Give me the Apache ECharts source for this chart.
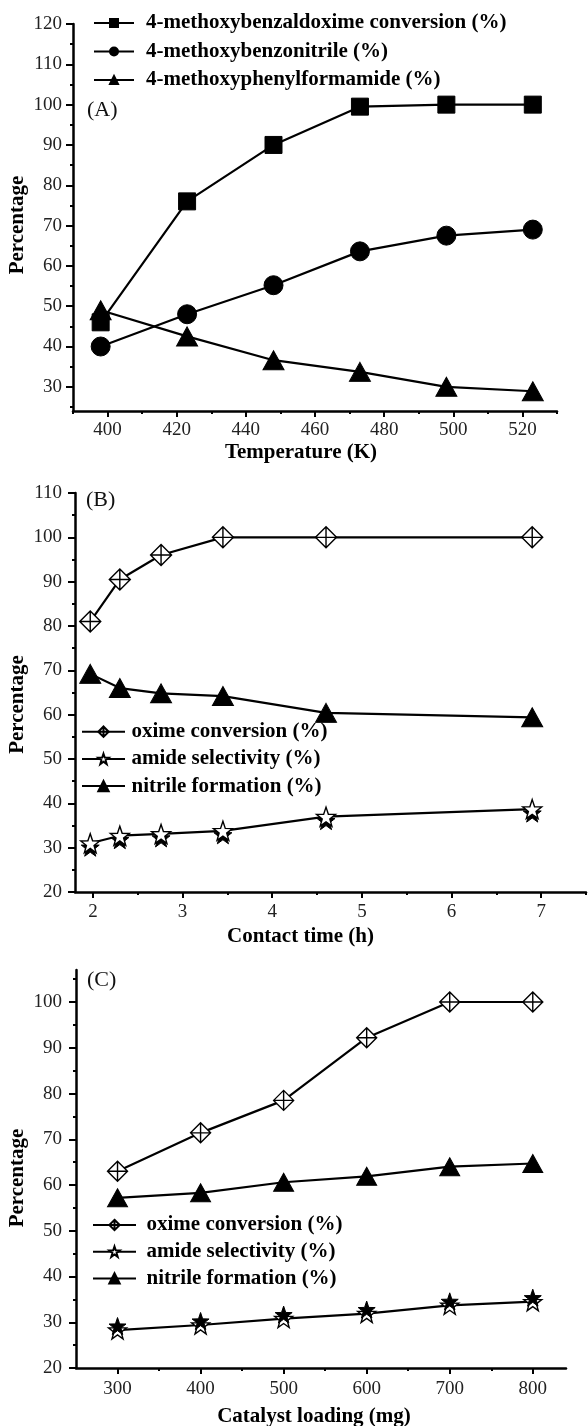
<!DOCTYPE html>
<html><head><meta charset="utf-8">
<script src="https://cdn.jsdelivr.net/npm/echarts@6/dist/echarts.min.js"></script>
<style>html,body{margin:0;padding:0;background:#fff}#c{width:588px;height:1426px}</style>
</head><body><div id="c"></div>
<script>
// ---------------- data ----------------
const tempK = [398, 423, 448, 473, 498, 523];
const aConversion = [46, 76, 90, 99.5, 100, 100];
const aNitrile = [40, 48, 55.2, 63.6, 67.5, 69];
const aAmide = [49, 42.5, 36.6, 33.7, 30, 28.9];
const tempTicks = [400, 420, 440, 460, 480, 500, 520];
const pctTicksA = [30, 40, 50, 60, 70, 80, 90, 100, 110, 120];

const contactH = [1.97, 2.3, 2.76, 3.45, 4.6, 6.9];
const bOxime = [81, 90.5, 96, 100, 100, 100];
const bAmide = [31, 32.7, 33.1, 33.8, 37, 38.7];
const bNitrile = [69.2, 66, 64.8, 64.2, 60.4, 59.4];
const contactTicks = [2, 3, 4, 5, 6, 7];
const pctTicksB = [20, 30, 40, 50, 60, 70, 80, 90, 100, 110];

const loadingMg = [300, 400, 500, 600, 700, 800];
const cOxime = [63, 71.4, 78.5, 92.2, 100, 100];
const cAmide = [28.3, 29.4, 30.8, 31.9, 33.7, 34.5];
const cNitrile = [57.2, 58.3, 60.6, 61.9, 64, 64.7];
const loadingTicks = [300, 400, 500, 600, 700, 800];
const pctTicksC = [20, 30, 40, 50, 60, 70, 80, 90, 100];

const legendA = ['4-methoxybenzaldoxime conversion (%)', '4-methoxybenzonitrile (%)', '4-methoxyphenylformamide (%)'];
const legendBC = ['oxime conversion (%)', 'amide selectivity (%)', 'nitrile formation (%)'];

// ---------------- styles ----------------
const SERIF = '"Liberation Serif","Times New Roman",Times,serif';
const STAR = 'path://M50,0 L61.76,33.82 L97.55,34.55 L69.02,56.18 L79.39,90.45 L50,70 L20.61,90.45 L30.98,56.18 L2.45,34.55 L38.24,33.82 Z';
const DIAMONDX = 'path://M10,0 L20,10 L10,20 L0,10 Z M10,0 L10,20 M0,10 L20,10';

const grids = [], xAxes = [], yAxes = [], series = [];
function addGrid(r) { grids.push(Object.assign({containLabel:false, outerBoundsMode:'none'}, r)); return grids.length - 1; }

function tickSpec(arr, minorLen, majorLen, extraMinor) {
  const step = arr[1] - arr[0];
  return {
    major: {from: arr[0], to: arr[arr.length - 1], step: step, len: majorLen},
    minor: {from: extraMinor ? extraMinor[0] : arr[0], to: extraMinor ? extraMinor[1] : arr[arr.length - 1], step: step / 2, len: minorLen}
  };
}

function buildPanel(p) {
  const gi = addGrid({left: p.L, top: p.T, width: p.R - p.L, height: p.B - p.T});
  const nameStyle = (shift) => ({fontFamily: SERIF, fontWeight: 'bold', fontSize: 21, color: '#000', padding: [0, 2 * shift, 0, 0]});
  xAxes.push({gridIndex: gi, type: 'value', min: p.xMin, max: p.xMax,
    axisLine: {show: true, onZero: false, lineStyle: {color: '#000', width: 2.5}},
    axisTick: {show: false}, axisLabel: {show: false}, splitLine: {show: false},
    name: p.xName, nameLocation: 'middle', nameGap: p.xNameGap, nameTextStyle: nameStyle(p.xNameShift)});
  yAxes.push({gridIndex: gi, type: 'value', min: p.yMin, max: p.yMax,
    axisLine: {show: true, onZero: false, lineStyle: {color: '#000', width: 2.5}},
    axisTick: {show: false}, axisLabel: {show: false}, splitLine: {show: false},
    name: p.yName, nameLocation: 'middle', nameGap: p.yNameGap, nameTextStyle: nameStyle(p.yNameShift)});
  const xi = xAxes.length - 1, yi = yAxes.length - 1;
  const px = v => p.L + (v - p.xMin) / (p.xMax - p.xMin) * (p.R - p.L);
  const py = v => p.B - (v - p.yMin) / (p.yMax - p.yMin) * (p.B - p.T);
  const tickAxis = (t, labels, margin) => ({type: 'value', min: t.from, max: t.to, interval: t.step,
    axisLine: {show: false}, splitLine: {show: false},
    axisTick: {show: true, inside: false, length: t.len, lineStyle: {color: '#000', width: 2}},
    axisLabel: {show: labels, margin: margin, fontFamily: SERIF, fontSize: 19, color: '#222', formatter: v => String(v)}});
  [['minor', false], ['major', true]].forEach(([k, lab]) => {
    const t = p.xTicks[k];
    const g = addGrid({left: px(t.from), width: Math.max(px(t.to) - px(t.from), 1), top: p.T, height: p.B - p.T});
    xAxes.push(Object.assign({gridIndex: g}, tickAxis(t, lab, p.xLabelMargin)));
    yAxes.push({gridIndex: g, type: 'value', show: false, min: 0, max: 1});
  });
  [['minor', false], ['major', true]].forEach(([k, lab]) => {
    const t = p.yTicks[k];
    const g = addGrid({left: p.L, width: p.R - p.L, top: py(t.to), height: py(t.from) - py(t.to)});
    yAxes.push(Object.assign({gridIndex: g}, tickAxis(t, lab, p.yLabelMargin)));
    xAxes.push({gridIndex: g, type: 'value', show: false, min: 0, max: 1});
  });
  return {xi, yi};
}

function addLine(name, ax, xs, ys, symbol, size, item, extra) {
  series.push(Object.assign({
    name: name, type: 'line', xAxisIndex: ax.xi, yAxisIndex: ax.yi,
    data: xs.map((x, i) => [x, ys[i]]),
    symbol: symbol, symbolSize: size, showSymbol: true, showAllSymbol: true,
    lineStyle: {color: '#000', width: 2.2}, itemStyle: item,
    emphasis: {disabled: true}, silent: true, z: 3
  }, extra || {}));
}
function addDeco(name, ax, xs, ys, symbol, size, offset, z) {
  series.push({
    name: name, type: 'line', xAxisIndex: ax.xi, yAxisIndex: ax.yi,
    data: xs.map((x, i) => [x, ys[i]]),
    symbol: symbol, symbolSize: size, symbolOffset: offset, showAllSymbol: true,
    lineStyle: {opacity: 0, width: 0}, itemStyle: {color: '#000', borderColor: '#000', borderWidth: 1},
    emphasis: {disabled: true}, silent: true, z: z
  });
}

// ---------------- panels ----------------
const axA = buildPanel({L: 73, R: 557, T: 24, B: 411, xMin: 390, xMax: 530, yMin: 24, yMax: 120,
  xName: 'Temperature (K)', xNameGap: 31, xNameShift: 14, yName: 'Percentage', yNameGap: 45, yNameShift: 7.5,
  xLabelMargin: 10, yLabelMargin: 11,
  xTicks: tickSpec(tempTicks, 3, 6, [390, 530]), yTicks: tickSpec(pctTicksA, 3, 7, [25, 120])});
const axB = buildPanel({L: 75, R: 586, T: 493, B: 892, xMin: 1.8, xMax: 7.5, yMin: 20, yMax: 110,
  xName: 'Contact time (h)', xNameGap: 34, xNameShift: 30, yName: 'Percentage', yNameGap: 47, yNameShift: 12,
  xLabelMargin: 11, yLabelMargin: 13,
  xTicks: tickSpec(contactTicks, 3, 6, [2, 7.5]), yTicks: tickSpec(pctTicksB, 3, 7)});
const axC = buildPanel({L: 76, R: 566, T: 970, B: 1368, xMin: 250, xMax: 840, yMin: 20, yMax: 107,
  xName: 'Catalyst loading (mg)', xNameGap: 38, xNameShift: 7, yName: 'Percentage', yNameGap: 48, yNameShift: 9,
  xLabelMargin: 12, yLabelMargin: 14,
  xTicks: tickSpec(loadingTicks, 3, 6), yTicks: tickSpec(pctTicksC, 3, 7, [20, 105])});

const black = {color: '#000', borderColor: '#000', borderWidth: 1};
const open = {color: '#fff', borderColor: '#000', borderWidth: 1.4};

addLine(legendA[0], axA, tempK, aConversion, 'rect', 17, black);
addLine(legendA[1], axA, tempK, aNitrile, 'circle', 19, black);
addLine(legendA[2], axA, tempK, aAmide, 'triangle', [21, 19], black);

addLine(legendBC[0], axB, contactH, bOxime, DIAMONDX, 21, open);
addDeco('amide selectivity shadow B', axB, contactH, bAmide, STAR, 18, [0, 4], 3);
addLine(legendBC[1], axB, contactH, bAmide, STAR, 19, open, {z: 4});
addLine(legendBC[2], axB, contactH, bNitrile, 'triangle', [21, 19], black);

addLine(legendBC[0], axC, loadingMg, cOxime, DIAMONDX, 20, open);
addLine(legendBC[1], axC, loadingMg, cAmide, STAR, 18, open);
addDeco('amide selectivity shadow C', axC, loadingMg, cAmide, STAR, 17, [0, -4], 5);
addLine(legendBC[2], axC, loadingMg, cNitrile, 'triangle', [20, 18], black);

const legendText = (pad) => ({fontFamily: SERIF, fontWeight: 'bold', fontSize: 21, color: '#000', lineHeight: 22, padding: [0, 0, 0, pad]});
const titleStyle = {fontFamily: SERIF, fontWeight: 'normal', fontSize: 22, color: '#111'};

const option = {
  animation: false,
  backgroundColor: '#fff',
  title: [
    {text: '(A)', left: 87, top: 99, padding: 0, textStyle: titleStyle},
    {text: '(B)', left: 86, top: 489, padding: 0, textStyle: titleStyle},
    {text: '(C)', left: 87, top: 969, padding: 0, textStyle: titleStyle}
  ],
  legend: [
    {data: legendA, orient: 'vertical', left: 93, top: 12, padding: 0, itemWidth: 40, itemHeight: 10, itemGap: 6.5,
      textStyle: legendText(7), selectedMode: false},
    {data: legendBC, orient: 'vertical', left: 81, top: 720.7, padding: 0, itemWidth: 43, itemHeight: 13, itemGap: 5.2,
      textStyle: legendText(1.5), selectedMode: false},
    {data: legendBC, orient: 'vertical', left: 92, top: 1214, padding: 0, itemWidth: 43, itemHeight: 13, itemGap: 4.7,
      textStyle: legendText(5.5), selectedMode: false}
  ],
  grid: grids, xAxis: xAxes, yAxis: yAxes, series: series
};
const chart = echarts.init(document.getElementById('c'), null, {renderer: 'canvas'});
chart.setOption(option);
</script></body></html>
